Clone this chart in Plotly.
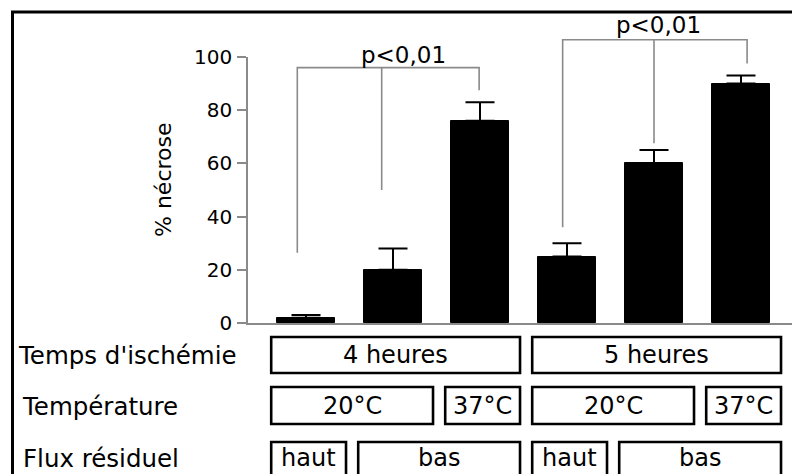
import plotly.graph_objects as go

# ---- data -------------------------------------------------------------
groups = ["4h 20°C haut", "4h 20°C bas", "4h 37°C bas",
          "5h 20°C haut", "5h 20°C bas", "5h 37°C bas"]
necrosis = [2, 20, 76, 25, 60, 90]          # % nécrose (mean)
sem = [1, 8, 7, 5, 5, 3]                    # error (upper bar)
y_ticks = [0, 20, 40, 60, 80, 100]
Y_MAX = 100

# significance brackets: leg positions (bar index), leg lower ends, level
brackets = [
    dict(legs=[-0.10, 0.87, 1.99], ends=[26.4, 50, 87.5], level=96.0,
         label="p<0,01", label_x=1.12, label_y=100.6),
    dict(legs=[2.95, 4.00, 5.07], ends=[36, 67.6, 97.6], level=106.5,
         label="p<0,01", label_x=4.05, label_y=112.0),
]

# condition table: row label, then (text, first bar, last bar)
row_labels = ["Temps d'ischémie", "Température", "Flux résiduel"]
row_cells = [
    [("4 heures", 0, 2), ("5 heures", 3, 5)],
    [("20°C", 0, 1), ("37°C", 2, 2), ("20°C", 3, 4), ("37°C", 5, 5)],
    [("haut", 0, 0), ("bas", 1, 2), ("haut", 3, 3), ("bas", 4, 5)],
]

# ---- layout geometry ---------------------------------------------------
W, H = 792, 474
ML, MR, MT, MB = 248, 0, 57, 151
X0_PX, STEP_PX = 306, 87          # first bar centre and bar spacing
XR = [(ML - X0_PX) / STEP_PX, (W - MR - X0_PX) / STEP_PX]


def px_x(px):
    return (px - ML) / (W - ML - MR)


def px_y(py):
    return (H - MB - py) / (H - MT - MB)


def val_y(v):
    # data value -> paper fraction (y axis spans 0..Y_MAX over the plot)
    return v / Y_MAX


FONT = "DejaVu Sans"
GRAY = "#8a8a8a"
xs = list(range(len(groups)))

fig = go.Figure()

fig.add_trace(go.Bar(
    x=xs, y=necrosis, width=0.667,
    marker=dict(color="black", line=dict(color="black", width=1)),
    error_y=dict(type="data", array=sem, arrayminus=[0] * len(sem),
                 color="black", thickness=2, width=14.5),
    showlegend=False, hoverinfo="skip",
))

annotations = []
shapes = []

# brackets (paper y so they may rise above the axis range)
for b in brackets:
    l, m, r = b["legs"]
    lev = val_y(b["level"])
    path = (f"M {l},{val_y(b['ends'][0])} L {l},{lev} L {r},{lev} "
            f"L {r},{val_y(b['ends'][2])} M {m},{lev} L {m},{val_y(b['ends'][1])}")
    shapes.append(dict(type="path", xref="x", yref="paper", path=path,
                       line=dict(color=GRAY, width=1.6)))
    annotations.append(dict(
        x=b["label_x"], y=val_y(b["label_y"]), xref="x", yref="paper",
        text=b["label"], showarrow=False, xanchor="center", yanchor="middle",
        font=dict(family=FONT, size=23, color="black"),
    ))

# y-axis title
annotations.append(dict(
    x=px_x(163), y=px_y(180), xref="paper", yref="paper",
    text="% nécrose", textangle=-90, showarrow=False,
    xanchor="center", yanchor="middle",
    font=dict(family=FONT, size=22, color="black"),
))

# condition table
row_box_px = [(337, 373), (387, 424), (442, 486)]
row_text_px = [355, 406, 458]
row_label_px = [16, 20, 21]
PAD_L, PAD_R = 0.40, 0.46
for label, cells, (top, bot), ty, lx in zip(row_labels, row_cells,
                                          row_box_px, row_text_px,
                                          row_label_px):
    annotations.append(dict(
        x=px_x(lx), y=px_y(ty), xref="paper", yref="paper", text=label,
        showarrow=False, xanchor="left", yanchor="middle",
        font=dict(family=FONT, size=24.5, color="black"),
    ))
    for text, i0, i1 in cells:
        x_lo, x_hi = i0 - PAD_L, i1 + PAD_R
        shapes.append(dict(
            type="rect", xref="x", yref="paper",
            x0=x_lo, x1=x_hi, y0=px_y(bot), y1=px_y(top),
            line=dict(color="black", width=2.6), fillcolor="white",
            layer="above",
        ))
        annotations.append(dict(
            x=(x_lo + x_hi) / 2, y=px_y(ty), xref="x", yref="paper",
            text=text, showarrow=False, xanchor="center", yanchor="middle",
            font=dict(family=FONT, size=24, color="black"),
        ))

# outer frame (left and top edges)
shapes.append(dict(
    type="path", xref="paper", yref="paper",
    path=f"M {px_x(12.5)},{px_y(490)} L {px_x(12.5)},{px_y(12)} "
         f"L {px_x(800)},{px_y(12)}",
    line=dict(color="black", width=3),
))

fig.update_layout(
    width=W, height=H,
    margin=dict(l=ML, r=MR, t=MT, b=MB, pad=0),
    paper_bgcolor="white", plot_bgcolor="white",
    bargap=0,
    xaxis=dict(range=XR, showgrid=False, zeroline=False, showticklabels=False,
               ticks="", showline=True, linecolor=GRAY, linewidth=1.6,
               fixedrange=True),
    yaxis=dict(range=[0, Y_MAX], tickvals=y_ticks, showgrid=False,
               zeroline=False, showline=True, linecolor=GRAY, linewidth=1.6,
               ticks="outside", ticklen=9, tickwidth=1.6, tickcolor=GRAY,
               tickfont=dict(family=FONT, size=20, color="black"),
               ticklabelstandoff=1, fixedrange=True),
    annotations=annotations,
    shapes=shapes,
    font=dict(family=FONT),
)

fig.write_html("out.html")
